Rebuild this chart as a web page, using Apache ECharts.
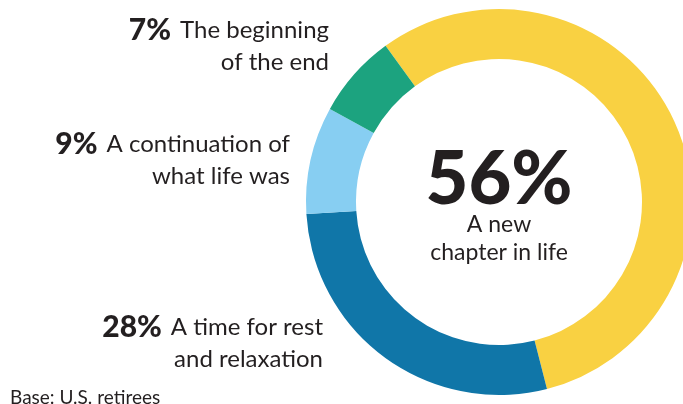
<!DOCTYPE html>
<html>
<head>
<meta charset="utf-8">
<script src="https://cdn.jsdelivr.net/npm/echarts@6/dist/echarts.min.js"></script>
<style>
  html, body { margin: 0; padding: 0; background: #fff; }
  #main { width: 683px; height: 404px; }
</style>
</head>
<body>
<div id="main"></div>
<script>
// how retirees see retirement
var labels = ['A new\nchapter in life', 'A time for rest\nand relaxation', 'A continuation of\nwhat life was', 'The beginning\nof the end'];
var values = [56, 28, 9, 7];
var colors = ['#f9d142', '#1076a8', '#87cef2', '#1ca37f'];
var baseNote = 'Base: U.S. retirees';

// where the side labels sit (right edge, middle of block)
var labelSpots = {1: [323, 343], 2: [290, 160], 3: [329, 46]};
var ink = '#231f20';

var chart = echarts.init(document.getElementById('main'));

var pieData = values.map(function (v, i) {
    var item = {value: v, name: labels[i], itemStyle: {color: colors[i]}};
    if (i == 0) {
        item.label = {position: 'center', align: 'center', padding: [13, 0, 0, 0]};
    }
    return item;
});

var option = {
    animation: false,
    textStyle: {fontFamily: 'Lato', color: ink},
    title: {
        text: baseNote,
        left: 10,
        top: 388,
        padding: 0,
        textStyle: {fontFamily: 'Lato', fontWeight: 'normal', fontSize: 19, color: ink, lineHeight: 20}
    },
    series: [{
        type: 'pie',
        center: [499, 202],
        radius: [143, 193],
        startAngle: 126,
        clockwise: true,
        silent: true,
        emphasis: {disabled: true},
        labelLine: {show: false},
        label: {
            show: true,
            position: 'outside',
            align: 'right',
            formatter: function (p) {
                var lines = p.name.split('\n');
                if (p.dataIndex == 0) {
                    return '{big|' + p.value + '%}\n' + lines.map(function (l) { return '{sub|' + l + '}'; }).join('\n');
                }
                return '{pct|' + p.value + '%}{txt|' + lines[0] + '}\n{txt|' + lines[1] + '}';
            },
            rich: {
                big: {fontFamily: 'Lato', fontWeight: 900, fontSize: 74, lineHeight: 60, color: ink},
                sub: {fontFamily: 'Lato', fontSize: 23, lineHeight: 28, color: ink},
                pct: {fontFamily: 'Lato', fontWeight: 900, fontSize: 30, lineHeight: 32, color: ink,
                      padding: [0, 9, 0, 0]},
                txt: {fontFamily: 'Lato', fontSize: 24, lineHeight: 32, color: ink}
            }
        },
        labelLayout: function (p) {
            var spot = labelSpots[p.dataIndex];
            if (!spot) {
                return {};
            }
            return {x: spot[0], y: spot[1], align: 'right', verticalAlign: 'middle'};
        },
        data: pieData
    }]
};

chart.setOption(option);
</script>
</body>
</html>
